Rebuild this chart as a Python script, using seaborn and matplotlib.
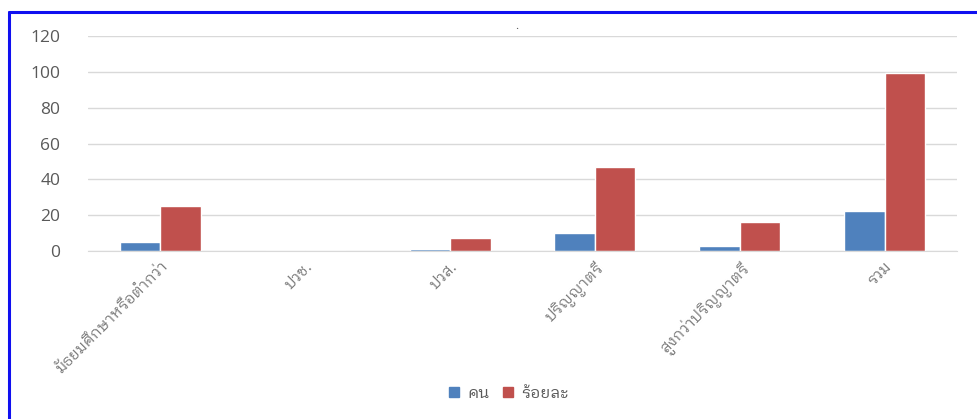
import numpy as np
import pandas as pd
import matplotlib
matplotlib.use("Agg")
import matplotlib.pyplot as plt
import seaborn as sns
from matplotlib.lines import Line2D

# ---- data ----
categories = ['มัธยมศึกษาหรือต่ำกว่า', 'ปวช.', 'ปวส.', 'ปริญญาตรี', 'สูงกว่าปริญญาตรี', 'รวม']
persons = [5, 0, 1, 10, 2.6, 22.3]
percent = [25, 0, 7.5, 47, 16, 99.3]
series_names = ['คน', 'ร้อยละ']
colors = ['#4F81BD', '#C0504D']

df = pd.DataFrame({
    'cat': categories * 2,
    'value': persons + percent,
    'series': [series_names[0]] * len(categories) + [series_names[1]] * len(categories),
})

sns.set_style('white')
plt.rcParams['font.family'] = ['IBM Plex Sans Thai Looped', 'DejaVu Sans']

fig = plt.figure(figsize=(9.78, 4.19), dpi=100)
ax = fig.add_axes([0.09, 0.401, 0.8885, 0.513])

sns.barplot(data=df, x='cat', y='value', hue='series', palette=colors, saturation=1,
            width=0.56, edgecolor='white', linewidth=1, ax=ax, legend=False)

ax.set_ylim(0, 120)
ax.set_yticks(np.arange(0, 121, 20))
ax.set_xlim(-0.5, len(categories) - 0.5)
ax.yaxis.grid(True, color='#D9D9D9', linewidth=1)
ax.set_axisbelow(True)
for s in ['top', 'right', 'left']:
    ax.spines[s].set_visible(False)
ax.spines['bottom'].set_color('#D9D9D9')
ax.set_xlabel('')
ax.set_ylabel('')
ax.tick_params(axis='y', length=0, labelsize=12.5, labelcolor='#595959', pad=20)
for lab in ax.get_yticklabels():
    lab.set_family(['Open Sans', 'DejaVu Sans'])
ax.set_xticks(np.arange(len(categories)))
ax.set_xticklabels(categories, rotation=45, ha='right', rotation_mode='anchor',
                   fontsize=11, color='#7A7A7A')
ax.tick_params(axis='x', length=0, pad=6)
ax.set_xticks(np.arange(-0.5, len(categories)), minor=True)
ax.tick_params(axis='x', which='minor', length=6, color='#D9D9D9', width=1)

handles = [Line2D([], [], marker='s', linestyle='', color=c, markersize=7) for c in colors]
fig.legend(handles, series_names, loc='center', bbox_to_anchor=(0.518, 0.062),
           ncol=2, frameon=False, fontsize=11.5, handletextpad=0.2, columnspacing=0.6,
           handlelength=1.2, labelcolor='#595959')

fig.text(0.528, 0.93, '.', color='#595959', fontsize=8, ha='center')

# blue frame
fig.add_artist(plt.Line2D([9 / 978, 9 / 978], [0, 1 - 12 / 419], color='#1010F0', lw=2.2))
fig.add_artist(plt.Line2D([9 / 978, 1], [1 - 12 / 419, 1 - 12 / 419], color='#1010F0', lw=2.2))

fig.savefig('out.png', dpi=100)
